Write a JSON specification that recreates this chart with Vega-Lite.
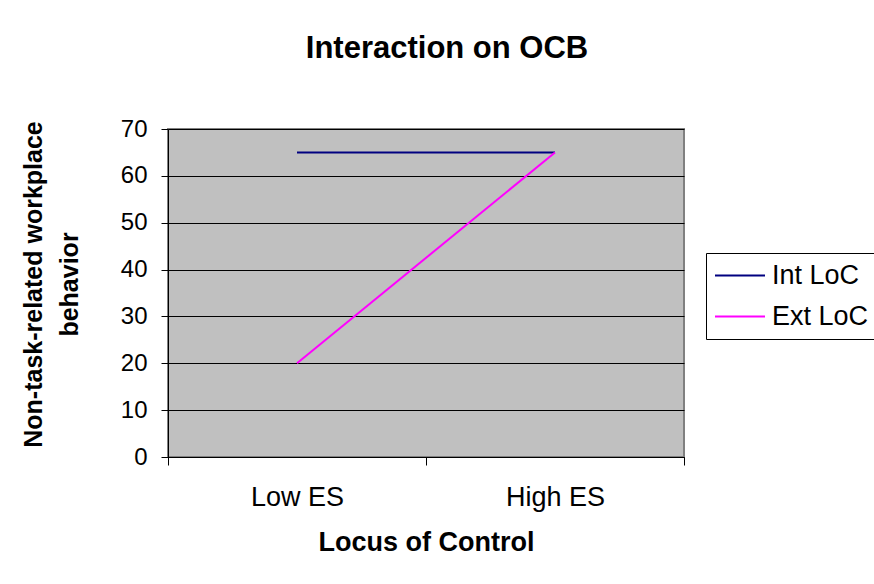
{
  "$schema": "https://vega.github.io/schema/vega-lite/v6.json",
  "width": 516,
  "height": 328,
  "autosize": {"type": "none"},
  "padding": {"left": 168, "top": 129, "right": 190, "bottom": 127},
  "background": "white",
  "title": {
    "text": "Interaction on OCB",
    "fontSize": 31,
    "fontWeight": "bold",
    "color": "black",
    "anchor": "middle",
    "frame": "group",
    "dx": 21,
    "offset": 52
  },
  "data": {
    "values": [
      {"es": "Low ES", "group": "Int LoC", "value": 65},
      {"es": "High ES", "group": "Int LoC", "value": 65},
      {"es": "Low ES", "group": "Ext LoC", "value": 20},
      {"es": "High ES", "group": "Ext LoC", "value": 65}
    ]
  },
  "mark": {"type": "line", "strokeWidth": 2},
  "encoding": {
    "x": {
      "field": "es",
      "type": "nominal",
      "sort": ["Low ES", "High ES"],
      "bandPosition": 0.5,
      "scale": {"type": "band", "paddingInner": 0, "paddingOuter": 0},
      "axis": {
        "tickBand": "extent",
        "domainColor": "black",
        "domainWidth": 1,
        "tickColor": "black",
        "tickSize": 8,
        "labelFontSize": 27,
        "labelColor": "black",
        "labelPadding": 19,
        "labelAngle": 0,
        "grid": false,
        "title": "Locus of Control",
        "titleFontSize": 27,
        "titleFontWeight": "bold",
        "titleColor": "black",
        "titlePadding": 19
      }
    },
    "y": {
      "field": "value",
      "type": "quantitative",
      "scale": {"domain": [0, 70], "nice": false},
      "axis": {
        "values": [0, 10, 20, 30, 40, 50, 60, 70],
        "domainColor": "black",
        "domainWidth": 1,
        "tickColor": "black",
        "tickSize": 7,
        "grid": true,
        "gridColor": "black",
        "gridWidth": 1,
        "gridOpacity": 1,
        "labelFontSize": 24,
        "labelColor": "black",
        "labelPadding": 14,
        "title": ["Non-task-related workplace", "behavior"],
        "titleFontSize": 25,
        "titleFontWeight": "bold",
        "titleColor": "black",
        "titleAngle": -90,
        "titleAlign": "center",
        "titleBaseline": "bottom",
        "titleLineHeight": 36,
        "titleX": -122,
        "titleY": 155
      }
    },
    "color": {
      "field": "group",
      "type": "nominal",
      "sort": ["Int LoC", "Ext LoC"],
      "scale": {"domain": ["Int LoC", "Ext LoC"], "range": ["#000080", "#FF00FF"]},
      "legend": {
        "title": null,
        "orient": "none",
        "legendX": 538,
        "legendY": 124,
        "strokeColor": "black",
        "fillColor": "white",
        "padding": 9,
        "symbolType": "M-1.08,0H2.92",
        "symbolSize": 625,
        "symbolStrokeWidth": 2,
        "labelFontSize": 27,
        "labelColor": "black",
        "labelOffset": 30,
        "rowPadding": 13
      }
    }
  },
  "config": {
    "font": "Liberation Sans",
    "view": {"fill": "#C0C0C0", "stroke": "#808080", "strokeWidth": 2}
  }
}
